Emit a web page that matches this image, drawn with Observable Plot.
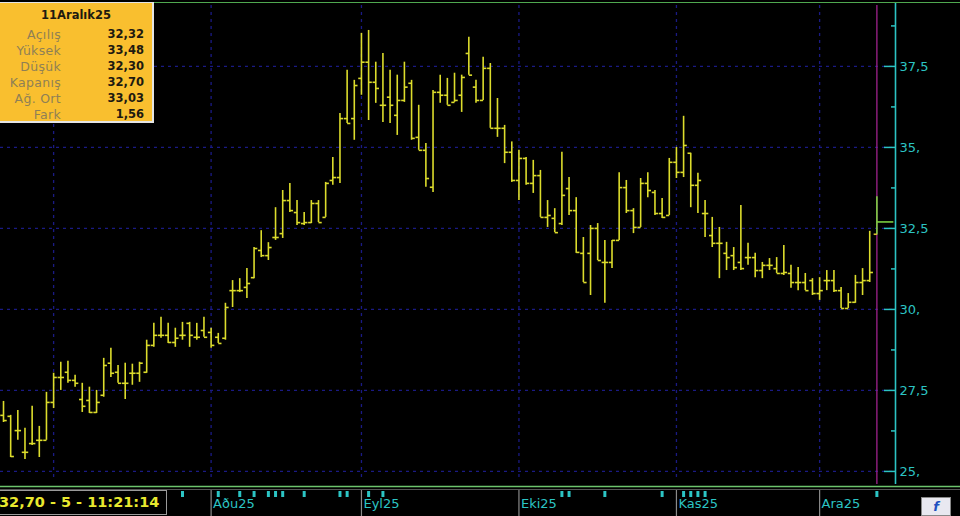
<!DOCTYPE html>
<html><head><meta charset="utf-8">
<script src="https://cdn.jsdelivr.net/npm/d3@7"></script>
<script src="https://cdn.jsdelivr.net/npm/@observablehq/plot@0.6"></script>
<style>
body{margin:0;background:#000;}
#wrap{position:relative;width:960px;height:516px;overflow:hidden;background:#000;font-family:"DejaVu Sans",Verdana,sans-serif;}
#info{position:absolute;left:0;top:2px;width:152px;height:118px;background:#f9bf2f;border-right:2px solid #e4e4e4;border-bottom:2px solid #e4e4e4;border-top:1px solid #e4e4e4;}
#info .t{position:absolute;left:0;width:152px;top:5px;text-align:center;font-weight:bold;font-size:11.5px;color:#1e1a10;}
#info .l{position:absolute;right:91px;font-size:12.5px;color:#8f7f55;letter-spacing:0.3px;white-space:nowrap;}
#info .v{position:absolute;right:8px;font-size:11.5px;font-weight:bold;color:#1e1a10;}
#last{position:absolute;left:-2px;top:490px;width:167px;height:23px;border:1px solid #9a9a9a;background:#000;color:#e8e82e;font-weight:bold;font-size:14.5px;line-height:23px;white-space:nowrap;overflow:hidden;}
#icon{position:absolute;left:921px;top:497px;width:28px;height:17px;background:#e8e8f0;border:1px solid #888;color:#2050c0;font-weight:bold;font-style:italic;font-size:13px;text-align:center;line-height:17px;}
</style></head>
<body><div id="wrap"></div>
<script>
// Daily OHLC bars (index 0 = first visible trading day, last = 11 Aralık 25)
const open=[26.73,26.70,26.26,25.59,25.86,25.96,25.96,27.13,27.90,28.06,27.81,27.22,27.19,26.82,27.35,28.34,28.06,27.72,28.03,28.03,28.06,28.89,29.20,29.20,28.98,29.20,29.57,29.14,29.35,29.29,29.14,29.11,30.58,30.58,30.68,30.98,31.82,31.66,32.22,32.34,33.36,32.99,32.65,32.68,33.27,32.84,33.98,34.07,35.89,35.89,37.13,37.63,37.01,36.30,36.55,35.99,36.45,36.98,35.31,34.91,33.77,36.70,36.61,36.39,36.61,37.90,36.86,36.45,37.44,35.59,35.59,34.85,33.98,34.66,33.89,34.13,32.84,32.81,32.65,33.73,33.05,31.73,31.73,32.50,31.45,31.45,32.13,33.76,33.05,32.53,33.89,33.61,32.96,32.90,34.54,34.23,34.82,33.83,32.96,32.28,32.04,31.73,31.66,31.45,31.60,31.60,31.20,31.36,31.26,31.11,31.11,30.83,30.83,30.89,30.49,30.89,30.89,30.58,30.03,30.22,30.83,30.89,32.32];
const high=[27.16,26.73,26.88,26.33,27.01,26.39,27.44,28.03,28.37,28.40,27.97,27.72,27.60,27.50,28.49,28.80,28.27,28.34,28.31,28.37,29.05,29.57,29.76,29.57,29.42,29.60,29.60,29.57,29.76,29.42,29.26,30.19,30.89,30.95,31.26,31.91,32.43,32.06,33.14,33.67,33.89,33.36,32.99,33.36,33.36,33.92,34.69,36.05,37.38,37.07,38.52,38.61,37.63,37.90,37.38,37.23,37.63,37.07,36.30,35.12,36.76,37.23,37.13,37.29,37.23,38.40,37.07,37.78,37.59,36.51,35.68,35.17,34.91,34.69,34.60,34.29,33.36,33.11,34.85,34.07,33.45,32.22,32.59,32.65,32.13,32.13,34.22,33.98,33.11,34.04,34.22,33.67,33.42,34.66,35.00,35.96,34.82,34.20,33.36,32.84,32.53,32.07,31.91,33.21,32.04,31.73,31.45,31.57,31.60,31.97,31.36,31.29,31.11,30.95,30.98,31.20,31.20,30.68,30.49,31.05,31.26,32.41,33.48];
const low=[26.51,25.43,25.96,25.37,25.80,25.43,25.96,26.94,27.50,27.72,27.60,26.82,26.79,26.79,27.29,27.90,27.72,27.22,27.66,27.75,28.03,28.83,29.11,28.95,28.83,29.05,28.83,29.05,29.14,28.80,28.95,29.05,30.06,30.52,30.34,30.95,31.60,31.51,32.13,32.19,32.99,32.59,32.59,32.65,32.68,32.84,33.83,33.89,35.74,35.22,36.61,35.83,36.36,35.77,35.74,35.37,36.39,35.22,34.91,33.77,33.61,36.36,36.30,36.39,36.08,37.23,36.36,36.45,35.59,35.31,34.50,33.92,33.36,33.83,33.58,32.84,32.53,32.37,32.59,32.90,31.73,30.83,30.43,31.51,30.19,31.26,32.13,32.96,32.34,32.53,33.45,32.90,32.81,32.90,34.04,34.07,33.14,32.96,32.22,31.91,30.95,31.20,31.20,31.20,31.36,30.98,30.95,31.20,31.11,31.05,30.65,30.58,30.58,30.43,30.28,30.58,30.52,30.03,30.03,30.19,30.43,30.83,32.30];
const close=[26.57,25.46,26.26,25.59,25.86,25.96,27.13,27.90,27.90,27.81,27.72,27.01,26.82,27.13,28.27,28.03,27.72,27.72,28.03,28.34,28.89,29.20,29.20,28.98,29.11,29.20,29.20,29.14,29.14,28.89,28.95,30.06,30.58,30.58,30.80,31.88,31.66,31.91,32.22,33.36,33.05,32.68,32.68,33.27,32.68,33.89,34.07,35.89,35.74,36.91,37.63,37.01,36.82,36.30,36.30,36.45,36.86,35.28,34.91,34.04,36.70,36.61,36.30,36.45,37.16,37.23,36.45,37.44,35.59,35.59,34.85,33.98,34.66,33.89,34.13,32.84,32.90,32.37,33.52,33.05,31.76,30.83,32.50,31.51,31.45,32.13,33.76,33.05,32.53,33.89,33.67,32.96,32.84,34.54,34.23,35.06,33.83,33.98,32.96,32.04,32.04,31.60,31.29,31.26,31.60,31.20,31.36,31.36,31.11,31.14,30.83,30.83,30.58,30.49,30.58,30.89,30.58,30.03,30.22,30.83,30.89,31.14,32.70];
const yTicks=[25,27.5,30,32.5,35,37.5];
const yTickLabels=["25,","27,5","30,","32,5","35,","37,5"];
const yMinor=[26.25,28.75,31.25,33.75,36.25,38.75];
const gridX=[7,29,50,72,94,114];
const monthStart=[29,50,72,94,114];
const monthLabels=["Aðu25","Eyl25","Eki25","Kas25","Ara25"];
const markers=[4,22,25,30,33,35,37,38,39,42,47,48,51,53,78,79,84,92,95,96,97,98,122];
const infoTitle="11Aralık25";
const infoLabels=["Açılış","Yüksek","Düşük","Kapanış","Ağ. Ort","Fark"];
const infoValues=["32,32","33,48","32,30","32,70","33,03","1,56"];
const lastText="32,70 - 5 - 11:21:14";

const bars=open.map((o,i)=>({i,o,h:high[i],l:low[i],c:close[i]}));
const hist=bars.slice(0,-1), lastBar=[bars[bars.length-1]];
const X0=-0.42, X1=124.6;
const YEL="#dcdc2c", GRN="#7ccf40", CY="#2cc4c4", GRID="#1a1a84";
const sw=1.6;
const plot=Plot.plot({
  width:960,height:516,marginLeft:0,marginRight:65,marginTop:5,marginBottom:36,
  style:{background:"#000",overflow:"visible",fontFamily:"DejaVu Sans, Verdana, sans-serif"},
  x:{domain:[X0,X1],axis:null},
  y:{domain:[24.72,39.38],axis:null},
  marks:[
    Plot.ruleY(yTicks,{stroke:GRID,strokeDasharray:"3,4",strokeWidth:1.3}),
    Plot.ruleX(gridX,{stroke:GRID,strokeDasharray:"3,4",strokeWidth:1.3}),
    Plot.ruleX(lastBar,{x:"i",stroke:"#a0228e",strokeWidth:1.3,insetBottom:-4}),
    Plot.ruleX(hist,{x:"i",y1:"l",y2:"h",stroke:YEL,strokeWidth:sw}),
    Plot.link(hist,{x1:d=>d.i-0.45,x2:"i",y1:"o",y2:"o",stroke:YEL,strokeWidth:sw}),
    Plot.link(hist,{x1:"i",x2:d=>d.i+0.45,y1:"c",y2:"c",stroke:YEL,strokeWidth:sw}),
    Plot.ruleX(lastBar,{x:"i",y1:"l",y2:"h",stroke:GRN,strokeWidth:sw}),
    Plot.link(lastBar,{x1:d=>d.i-0.45,x2:"i",y1:"o",y2:"o",stroke:"#d8c02c",strokeWidth:sw}),
    Plot.link(lastBar,{x1:"i",x2:X1-0.3,y1:"c",y2:"c",stroke:GRN,strokeWidth:sw}),
    Plot.ruleX([X1],{stroke:CY,strokeWidth:1.6,insetTop:-2,insetBottom:-4}),
    Plot.ruleY(yTicks,{stroke:CY,strokeWidth:1.5,insetLeft:884}),
    Plot.ruleY(yMinor,{stroke:CY,strokeWidth:1.5,insetLeft:891}),
    Plot.text(yTicks,{y:d=>d,text:(d,i)=>yTickLabels[i],frameAnchor:"right",dx:4,textAnchor:"start",fill:CY,fontSize:13}),
    Plot.ruleX(monthStart,{stroke:"#8a8a8a",strokeWidth:1.2,insetTop:484,insetBottom:-36}),
    Plot.ruleX(markers,{stroke:CY,strokeWidth:3,insetTop:486,insetBottom:-17}),
    Plot.text(monthStart,{x:d=>d,text:(d,i)=>monthLabels[i],frameAnchor:"bottom",dy:27,dx:2,textAnchor:"start",fill:CY,fontSize:13})
  ]
});
const wrap=document.getElementById("wrap");
wrap.appendChild(plot);
const svg=d3.select(plot);
svg.append("line").attr("x1",0).attr("x2",960).attr("y1",2.5).attr("y2",2.5).attr("stroke","#4fa84f").attr("stroke-width",1.2);
svg.append("line").attr("x1",0).attr("x2",960).attr("y1",486.5).attr("y2",486.5).attr("stroke","#6cc46c").attr("stroke-width",1.5);
svg.append("line").attr("x1",0).attr("x2",960).attr("y1",489.5).attr("y2",489.5).attr("stroke","#555").attr("stroke-width",1);

const info=document.createElement("div"); info.id="info";
let h='<div class="t">'+infoTitle+'</div>';
infoLabels.forEach((l,i)=>{const top=24+i*16;h+='<div class="l" style="top:'+top+'px">'+l+'</div><div class="v" style="top:'+top+'px">'+infoValues[i]+'</div>';});
info.innerHTML=h; wrap.appendChild(info);
const lb=document.createElement("div"); lb.id="last"; lb.textContent=lastText; wrap.appendChild(lb);
const ic=document.createElement("div"); ic.id="icon"; ic.textContent="f"; wrap.appendChild(ic);
</script></body></html>
